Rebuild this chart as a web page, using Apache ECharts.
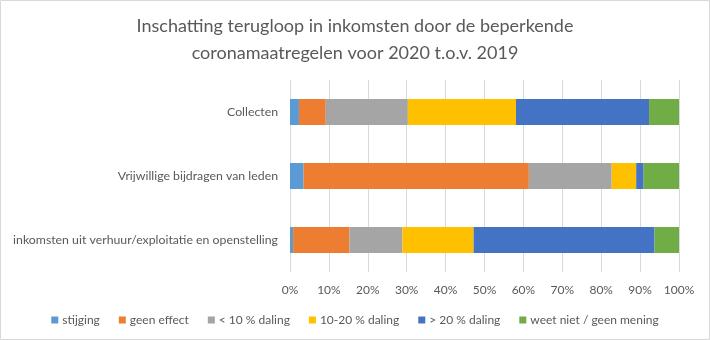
<!DOCTYPE html>
<html>
<head>
<meta charset="utf-8">
<script src="https://cdn.jsdelivr.net/npm/echarts@6/dist/echarts.min.js"></script>
<style>
  html, body { margin: 0; padding: 0; background: #fff; }
  #chart { width: 710px; height: 340px; }
</style>
</head>
<body>
<div id="chart"></div>
<script>
// Categories, top to bottom
const categories = [
  'Collecten',
  'Vrijwillige bijdragen van leden',
  'inkomsten uit verhuur/exploitatie en openstelling'
];

// Share of respondents per answer (%), same order as categories
const stijging    = [2.3, 3.5, 0.8];
const geenEffect  = [6.9, 57.9, 14.5];
const minder10    = [21.1, 21.3, 13.6];
const tien20      = [27.8, 6.3, 18.3];
const meer20      = [34.2, 1.9, 46.5];
const weetNiet    = [7.7, 9.1, 6.3];

const seriesNames = ['stijging', 'geen effect', '< 10 % daling', '10-20 % daling', '> 20 % daling', 'weet niet / geen mening'];
const seriesData  = [stijging, geenEffect, minder10, tien20, meer20, weetNiet];
const colors      = ['#5B9BD5', '#ED7D31', '#A5A5A5', '#FFC000', '#4472C4', '#70AD47'];

const font = 'Lato, "Open Sans", sans-serif';
const textColor = '#595959';

const chart = echarts.init(document.getElementById('chart'), null, { renderer: 'canvas' });

chart.setOption({
  animation: false,
  color: colors,
  textStyle: { fontFamily: font, color: textColor },
  title: {
    text: 'Inschatting terugloop in inkomsten door de beperkende\ncoronamaatregelen voor 2020 t.o.v. 2019',
    left: 'center',
    top: 8,
    textStyle: { fontFamily: font, fontSize: 18, fontWeight: 'normal', color: textColor, lineHeight: 27 }
  },
  graphic: [{
    type: 'rect',
    shape: { x: 0.5, y: 0.5, width: 709, height: 339 },
    style: { fill: 'none', stroke: '#d9d9d9', lineWidth: 1 },
    silent: true
  }],
  legend: {
    bottom: 9,
    left: 'center',
    itemWidth: 7,
    itemHeight: 7,
    itemGap: 19,
    icon: 'rect',
    textStyle: { fontFamily: font, fontSize: 12, color: textColor, padding: [0, 0, 0, -1] },
    data: seriesNames
  },
  grid: { left: 290, right: 31, top: 80, bottom: 68, containLabel: false },
  xAxis: {
    type: 'value',
    min: 0,
    max: 100,
    interval: 10,
    axisLine: { show: false },
    axisTick: { show: false },
    axisLabel: { formatter: '{value}%', fontFamily: font, fontSize: 12, color: textColor, margin: 12 },
    splitLine: { show: true, lineStyle: { color: '#d9d9d9', width: 1 } }
  },
  yAxis: {
    type: 'category',
    inverse: true,
    data: categories,
    axisLine: { show: false },
    axisTick: { show: false },
    axisLabel: { fontFamily: font, fontSize: 12.3, color: textColor, margin: 12 }
  },
  series: seriesNames.map((name, i) => ({
    name: name,
    type: 'bar',
    stack: 'total',
    barWidth: 26,
    data: seriesData[i]
  }))
});
</script>
</body>
</html>
